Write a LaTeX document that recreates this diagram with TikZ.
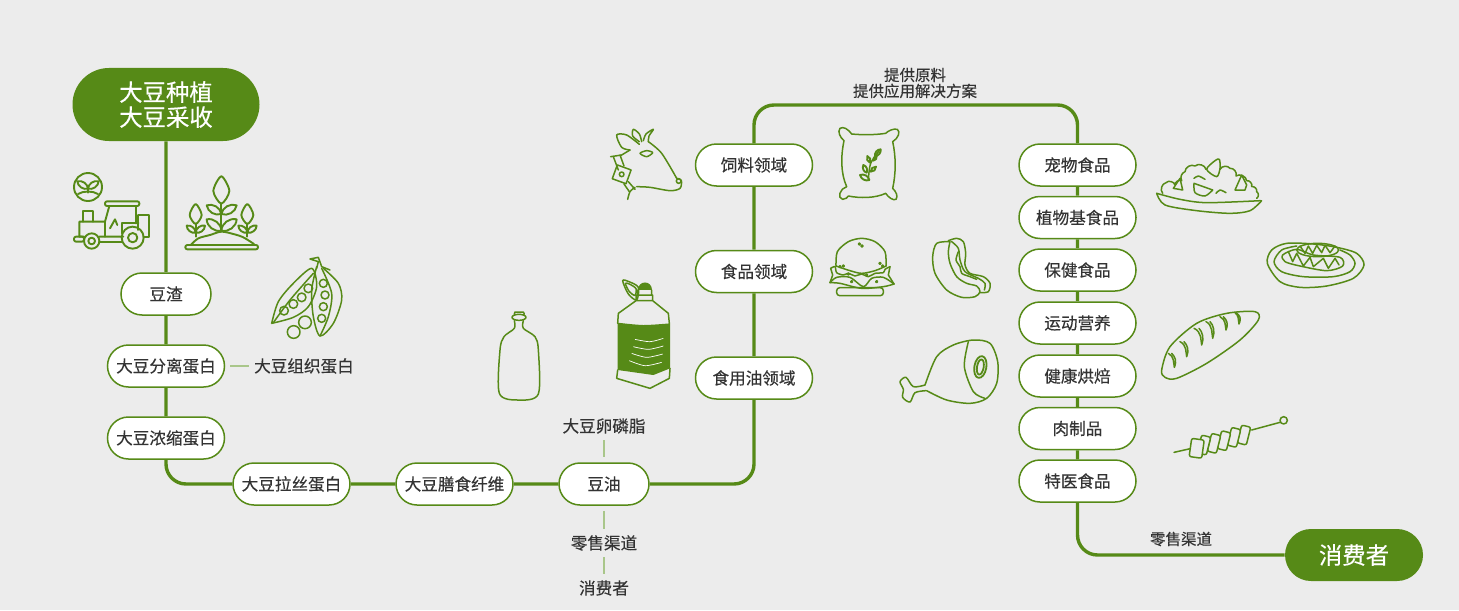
\documentclass[tikz,border=0pt]{standalone}
\usepackage{fontspec}
\setmainfont[FakeBold=0.3]{Noto Sans CJK SC}
\usetikzlibrary{shapes.misc}
\definecolor{soygreen}{HTML}{568A17}
\definecolor{palegreen}{HTML}{A9C68A}
\definecolor{panelgray}{HTML}{ECECEC}
\definecolor{labelgray}{HTML}{333333}
\tikzset{
    pill/.style={draw=soygreen, fill=white, line width=.75pt, rounded rectangle,
        minimum width=58.5pt, minimum height=21pt, inner sep=0pt, text=labelgray, font=\fontsize{8.3}{10}\selectfont},
    shortpill/.style={pill, minimum width=45pt},
    endpill/.style={fill=soygreen, rounded rectangle, minimum width=93.5pt, minimum height=36.5pt,
        inner sep=0pt, text=white, align=center, font=\fontsize{11.7}{12.5}\selectfont},
    sidelabel/.style={text=labelgray, inner sep=0pt, font=\fontsize{8.3}{10}\selectfont},
    smalllabel/.style={text=labelgray, inner sep=0pt, align=center, font=\fontsize{7.75}{8}\selectfont},
    mainline/.style={draw=soygreen, line width=1.7pt, rounded corners=10pt},
    thinline/.style={draw=palegreen, line width=.6pt},
    iconline/.style={draw=soygreen, line width=.75pt, line cap=round, line join=round},
    boldicon/.style={iconline, line width=.95pt},
    zoomed/.style={shift={(#1)}, x=.16667pt, y=-.16667pt}
}
\newcommand{\leafpath}[2]{\draw[boldicon] (#1) to[bend left=50] (#2) to[bend left=50] (#1);}
\begin{document}
\begin{tikzpicture}[x=.5pt, y=-.5pt]
    \fill[panelgray] (0,0) rectangle (1459,610);
    \useasboundingbox (0,0) rectangle (1459,610);

    \node[endpill] (planting) at (166,104.5) {大豆种植\\大豆采收};
    \node[shortpill] (okara) at (166,294) {豆渣};
    \node[pill] (isolate) at (166,366) {大豆分离蛋白};
    \node[sidelabel] (textured) at (304,366) {大豆组织蛋白};
    \node[pill] (concentrate) at (166,438) {大豆浓缩蛋白};
    \node[pill] (drawn) at (291.5,484) {大豆拉丝蛋白};
    \node[pill] (fiber) at (454.5,484) {大豆膳食纤维};
    \node[shortpill] (soyoil) at (604,484) {豆油};
    \node[sidelabel] (lecithin) at (604,426) {大豆卵磷脂};
    \node[sidelabel] (retail1) at (604,543) {零售渠道};
    \node[sidelabel] (buyer1) at (604,588) {消费者};
    \node[pill] (feed) at (754,165) {饲料领域};
    \node[pill] (food) at (754,271.5) {食品领域};
    \node[pill] (edibleoil) at (754,378) {食用油领域};
    \node[smalllabel] (supply) at (915,83) {提供原料\\提供应用解决方案};
    \coordinate (apex) at (915,105);
    \node[pill] (pet) at (1077.5,165) {宠物食品};
    \node[pill] (plantbased) at (1077.5,217.5) {植物基食品};
    \node[pill] (health) at (1077.5,270) {保健食品};
    \node[pill] (sports) at (1077.5,323) {运动营养};
    \node[pill] (baking) at (1077.5,376) {健康烘焙};
    \node[pill] (meat) at (1077.5,428.5) {肉制品};
    \node[pill] (medical) at (1077.5,481) {特医食品};
    \node[smalllabel] (retail2) at (1181,539) {零售渠道};
    \node[endpill, minimum width=69pt, minimum height=26pt] (buyer2) at (1354,555) {消费者};

    \draw[mainline] (planting) -- (okara);
    \draw[mainline] (okara) -- (isolate);
    \draw[mainline] (isolate) -- (concentrate);
    \draw[mainline] (concentrate.south) |- (drawn.west);
    \draw[mainline] (drawn) -- (fiber);
    \draw[mainline] (fiber) -- (soyoil);
    \draw[mainline] (soyoil.east) -| (edibleoil.south);
    \draw[mainline] (edibleoil) -- (food);
    \draw[mainline] (food) -- (feed);
    \draw[mainline] (feed.north) |- (apex) -| (pet.north);
    \draw[mainline] (pet) -- (plantbased);
    \draw[mainline] (plantbased) -- (health);
    \draw[mainline] (health) -- (sports);
    \draw[mainline] (sports) -- (baking);
    \draw[mainline] (baking) -- (meat);
    \draw[mainline] (meat) -- (medical);
    \draw[mainline] (medical.south) |- (buyer2.west);
    \draw[thinline] (isolate.east) ++(5,0) -- ++(19,0);
    \draw[thinline] ([yshift=-3pt]lecithin.south) -- ([yshift=2.5pt]soyoil.north);
    \draw[thinline] ([yshift=-2.5pt]soyoil.south) -- ([yshift=3pt]retail1.north);
    \draw[thinline] ([yshift=-3pt]retail1.south) -- ([yshift=3pt]buyer1.north);

    % tractor, plant, pods
    \begin{scope}[zoomed={60,60}]
        \draw[boldicon] (84,381) circle (42);
        \leafpath{84,386}{52,364}
        \leafpath{116,364}{84,386}
        \draw[boldicon] (84,386) -- (84,398) (54,402) .. controls (70,392) and (98,392) .. (114,402);
        \draw[boldicon, rounded corners=1pt] (135,424) rectangle (238,438);
        \draw[boldicon] (148,438) -- (135,485) -- (58,485) -- (58,530) -- (72,530) (118,530) -- (190,530);
        \draw[boldicon] (228,438) -- (228,490);
        \draw[boldicon] (70,485) -- (70,452) -- (100,452) -- (100,485) (135,485) -- (135,530);
        \draw[boldicon] (150,505) -- (165,478) -- (172,495);
        \draw[boldicon] (185,520) -- (185,490) -- (235,490) (235,465) -- (268,465) -- (268,530) -- (250,530) (235,465) -- (235,510);
        \draw[boldicon] (95,543) circle (23) (95,543) circle (10);
        \draw[boldicon] (218,533) circle (33) (218,533) circle (14);
        \draw[boldicon, rounded corners=1pt] (42,530) rectangle (72,545);
        \draw[boldicon] (118,545) -- (187,545);
        \draw[boldicon, rounded corners=1pt] (376,555) rectangle (594,568);
        \draw[boldicon] plot[smooth] coordinates {(392,555) (415,535) (450,525) (484,515) (520,522) (550,532) (582,552)};
        \draw[boldicon] (484,515) -- (484,430) (407,530) -- (407,490) (562,530) -- (562,490);
        \foreach \cx/\cy/\rw/\rh in {484/390/24/41, 407/462/18/30, 562/462/18/30}
            \draw[boldicon] plot[smooth cycle] coordinates {(\cx,\cy-\rh) (\cx+\rw,\cy+3) (\cx,\cy+\rh) (\cx-\rw,\cy+3)};
        \leafpath{484,462}{440,436}
        \leafpath{530,436}{484,462}
        \leafpath{484,512}{440,478}
        \leafpath{530,478}{484,512}
        \leafpath{407,518}{380,497}
        \leafpath{435,497}{407,518}
        \leafpath{562,518}{535,497}
        \leafpath{590,497}{562,518}
        % pods
        \draw[iconline] plot[smooth] coordinates {(635,790) (655,725) (700,670) (755,625) (770,680) (745,740) (700,772) (635,790)};
        \draw[iconline] plot[smooth] coordinates {(640,788) (690,720) (760,640)};
        \foreach \px/\py in {672/752, 700/732, 725/712, 745/685}
            \draw[iconline] (\px,\py) circle (13);
        \draw[iconline] plot[smooth] coordinates {(770,620) (755,690) (760,770) (780,828) (820,790) (845,720) (835,670) (790,625)};
        \draw[iconline] plot[smooth] coordinates {(785,625) (815,700) (805,770) (780,828)};
        \foreach \px/\py in {790/670, 795/705, 790/740, 785/775}
            \draw[iconline] (\px,\py) circle (12);
        \draw[iconline] (770,625) -- (775,605) -- (750,597) -- (775,592) -- (785,620) -- (810,630);
        \draw[iconline] (735,787) circle (19) (701,816) circle (19);
    \end{scope}

    % goat, bottle, jug
    \begin{scope}[zoomed={480,110}]
        \draw[iconline] plot[smooth] coordinates {(450,120) (425,112) (410,75) (440,75) (478,103)};
        \draw[iconline] plot[smooth] coordinates {(478,95) (458,78) (460,58) (478,72) (485,95)};
        \draw[iconline] plot[smooth] coordinates {(490,92) (498,72) (520,58) (507,78) (505,95)};
        \draw[iconline] plot[smooth] coordinates {(505,95) (545,130) (590,205)};
        \draw[iconline] plot[smooth] coordinates {(590,205) (604,212) (600,235) (570,242) (510,232) (470,230)};
        \draw[iconline] (596,213) circle (7);
        \draw[iconline] plot[smooth] coordinates {(465,232) (450,245) (443,268)};
        \draw[iconline] (450,120) -- (425,135) -- (392,140);
        \draw[iconline] (400,140) -- (415,180) (420,135) -- (432,168);
        \draw[iconline, rotate around={-20:(425,193)}] (403,171) rectangle (447,215);
        \draw[iconline] (425,193) circle (7);
        \draw[iconline] (445,215) -- (465,238) (432,222) -- (448,245);
        \draw[iconline] plot[smooth cycle] coordinates {(480,130) (500,122) (518,128) (500,140)};
        \draw[iconline] (117,622) ellipse (21 and 9) (103,612) -- (105,606) -- (130,606) -- (133,612);
        \draw[iconline] plot[smooth] coordinates {(103,632) (103,655) (72,680) (60,720) (58,850) (115,870) (175,852) (175,720) (165,680) (130,655) (130,632)};
        \fill[soygreen] (473,540) .. controls (473,510) and (515,510) .. (515,540) -- cycle;
        \draw[iconline] plot[smooth cycle] coordinates {(428,512) (447,515) (475,532) (470,570) (445,552)};
        \draw[iconline] plot[smooth cycle] coordinates {(436,520) (450,523) (468,536) (465,556) (448,545)};
        \draw[iconline] (473,540) -- (473,555) (515,540) -- (515,555) (468,555) -- (518,555) (468,555) -- (468,572) -- (415,610) -- (413,640) (518,555) -- (518,572) -- (565,610) -- (568,640) (468,572) -- (518,572);
        \fill[soygreen] plot[smooth] coordinates {(413,638) (490,645) (570,640)} -- (570,775) -- (520,795) -- (413,780) -- cycle;
        \draw[iconline] (413,780) -- (410,805) -- (510,835) -- (568,805) -- (570,775);
        \draw[white, line width=.35pt] plot[smooth] coordinates {(465,688) (510,695) (550,685)};
        \draw[white, line width=.35pt] plot[smooth] coordinates {(460,710) (505,718) (550,708)};
        \draw[white, line width=.35pt] plot[smooth] coordinates {(455,730) (500,742) (548,732)};
        \draw[white, line width=.35pt] plot[smooth] coordinates {(448,752) (495,767) (545,757)};
    \end{scope}

    % sack, burger, hot dog, ham
    \begin{scope}[zoomed={820,120}]
        \draw[iconline] (72,62) .. controls (62,110) and (62,160) .. (80,200)
            .. controls (60,205) and (50,235) .. (68,238) .. controls (78,238) and (82,232) .. (85,228)
            .. controls (120,235) and (165,235) .. (197,220)
            .. controls (205,232) and (220,243) .. (228,238) .. controls (235,228) and (228,215) .. (218,205)
            .. controls (228,160) and (228,110) .. (218,65)
            .. controls (235,55) and (242,35) .. (232,28) .. controls (220,25) and (205,32) .. (197,40)
            .. controls (165,45) and (125,45) .. (95,42)
            .. controls (85,28) and (70,18) .. (60,25) .. controls (52,35) and (60,52) .. (72,62);
        \draw[iconline] plot[smooth] coordinates {(145,178) (152,130) (178,92)};
        \leafpath{148,180}{120,165}
        \leafpath{140,158}{130,135}
        \leafpath{152,155}{168,140}
        \leafpath{150,128}{142,108}
        \leafpath{160,122}{170,108}
        \leafpath{165,108}{182,88}
        \draw[iconline] plot[smooth] coordinates {(48,438) (52,395) (85,365) (125,355) (165,365) (195,395) (198,438)};
        \draw[iconline] plot[smooth] coordinates {(48,438) (90,452) (125,460) (165,452) (198,438)};
        \draw[iconline] plot[smooth] coordinates {(32,445) (45,440) (50,458) (70,465) (85,460) (105,468) (125,462) (145,470) (165,460) (190,458) (195,448) (210,440)};
        \draw[iconline] plot[smooth] coordinates {(30,488) (50,472) (90,472) (130,500) (155,475) (190,472) (222,492)};
        \draw[iconline] plot[smooth] coordinates {(30,488) (60,490) (125,505) (190,500) (222,492)};
        \draw[iconline] (32,445) -- (38,465) -- (30,488) (210,440) -- (205,465) -- (222,492);
        \draw[iconline, rounded corners=1.5pt] (50,503) rectangle (190,527);
        \foreach \dx/\dy in {118/372, 126/378, 60/440, 70/438, 180/430, 188/438, 95/485, 170/485, 85/462, 140/465}
            \draw[iconline] (\dx,\dy) circle (3);
        \draw[iconline] plot[smooth] coordinates {(390,365) (350,370) (338,410) (345,460) (380,510) (425,532) (465,530) (480,515) (470,498) (440,490) (410,470) (390,430) (385,395) (390,365)};
        \draw[iconline] plot[smooth] coordinates {(385,362) (410,355) (430,365) (437,400) (435,435) (450,460) (490,470) (510,490) (505,515) (480,518)};
        \draw[iconline] plot[smooth] coordinates {(395,365) (415,385) (420,420) (435,455) (475,475) (495,490) (493,510)};
        \draw[iconline] plot[smooth] coordinates {(415,395) (408,420) (420,440) (425,460) (450,470) (470,478)};
        \draw[iconline] plot[smooth] coordinates {(315,795) (350,710) (400,675) (460,660) (510,670) (533,725) (530,790) (500,835) (450,850) (380,840) (320,812)};
        \draw[iconline] plot[smooth] coordinates {(445,665) (433,740) (460,815) (495,835)};
        \draw[iconline, line width=.9pt, rotate around={-10:(481,741)}] (481,741) ellipse (18 and 33) (481,741) ellipse (10 and 23);
        \draw[iconline] plot[smooth] coordinates {(315,795) (280,800) (258,772) (240,785) (250,808) (248,832) (270,846) (285,818) (318,812)};
    \end{scope}

    % salad, slices, bread, skewer
    \begin{scope}[zoomed={1140,140}]
        \draw[iconline] plot[smooth] coordinates {(50,160) (120,178) (200,188) (362,182)};
        \draw[iconline] plot[smooth] coordinates {(50,160) (75,195) (170,212) (270,220) (330,212) (365,182)};
        \draw[iconline] (68,160) to[bend left=60] (78,128) to[bend left=60] (105,135) to[bend left=60] (125,122)
            to[bend left=50] (135,95) to[bend left=60] (165,78) to[bend left=60] (198,88);
        \draw[iconline] (240,88) to[bend left=60] (270,85) to[bend left=60] (288,108) to[bend left=60] (320,122)
            to[bend left=60] (335,140) to[bend left=60] (350,155) to[bend left=60] (350,175);
        \draw[iconline] plot[smooth cycle] coordinates {(200,88) (225,62) (238,58) (240,85) (230,110)};
        \draw[iconline] (100,145) -- (120,115) -- (128,150) -- cycle;
        \draw[iconline] (285,150) -- (305,105) -- (320,135) -- (315,150) -- cycle;
        \draw[iconline] plot[smooth] coordinates {(162,130) (165,158) (195,168) (218,150)} -- cycle;
        \draw[iconline] plot[smooth] coordinates {(162,115) (175,108) (195,118)};
        \draw[iconline] plot[smooth] coordinates {(228,160) (240,150) (258,158)};
        \draw[iconline] plot[smooth cycle] coordinates {(382,370) (395,330) (440,310) (520,312) (590,322) (650,340) (672,375) (640,415) (560,438) (480,442) (420,425)};
        \draw[iconline] plot[smooth] coordinates {(470,318) (425,330) (402,365) (425,395) (490,410) (580,410) (630,395) (645,370) (630,345) (600,330)};
        \draw[iconline] (533,330) ellipse (63 and 20);
        \draw[iconline] plot[smooth cycle] coordinates {(428,345) (470,328) (520,345) (600,352) (608,378) (560,392) (480,378) (435,365)};
        \draw[iconline] (480,318) -- (495,340) -- (505,318) -- (518,340) -- (530,316) -- (545,338) -- (555,316) -- (570,338) -- (585,318);
        \draw[iconline] (445,335) -- (458,365) -- (470,340) -- (490,378) -- (510,352) -- (520,380) -- (550,355) -- (565,385) -- (585,355) -- (597,375);
        \draw[iconline] plot[smooth cycle] coordinates {(65,690) (90,620) (170,550) (260,520) (345,515) (355,540) (300,600) (200,670) (110,715) (75,712)};
        \foreach \ax/\ay/\bx/\by in {85/640/103/682, 120/605/140/650, 162/565/185/615, 198/545/218/595, 240/530/258/570, 285/518/297/552}
            \draw[iconline] (\ax,\ay) .. controls (\bx,\ay+10) and (\bx-3,\by-15) .. (\bx,\by) .. controls (\bx+8,\by-20) and (\bx+2,\ay+10) .. (\bx-8,\ay);
        \draw[iconline] (102,937) -- (155,925) (335,870) -- (420,847);
        \draw[iconline] (431,841) circle (11);
        \foreach \sx/\sy in {305/855, 275/862, 245/872, 215/880, 185/885}
            \draw[iconline, fill=panelgray, rounded corners=1pt, rotate around={-14:(\sx,\sy)}] (\sx,\sy) rectangle ++(28,55);
        \draw[iconline, fill=panelgray, rounded corners=1pt, rotate around={-8:(155,895)}] (155,895) rectangle ++(38,55);
    \end{scope}
\end{tikzpicture}
\end{document}
